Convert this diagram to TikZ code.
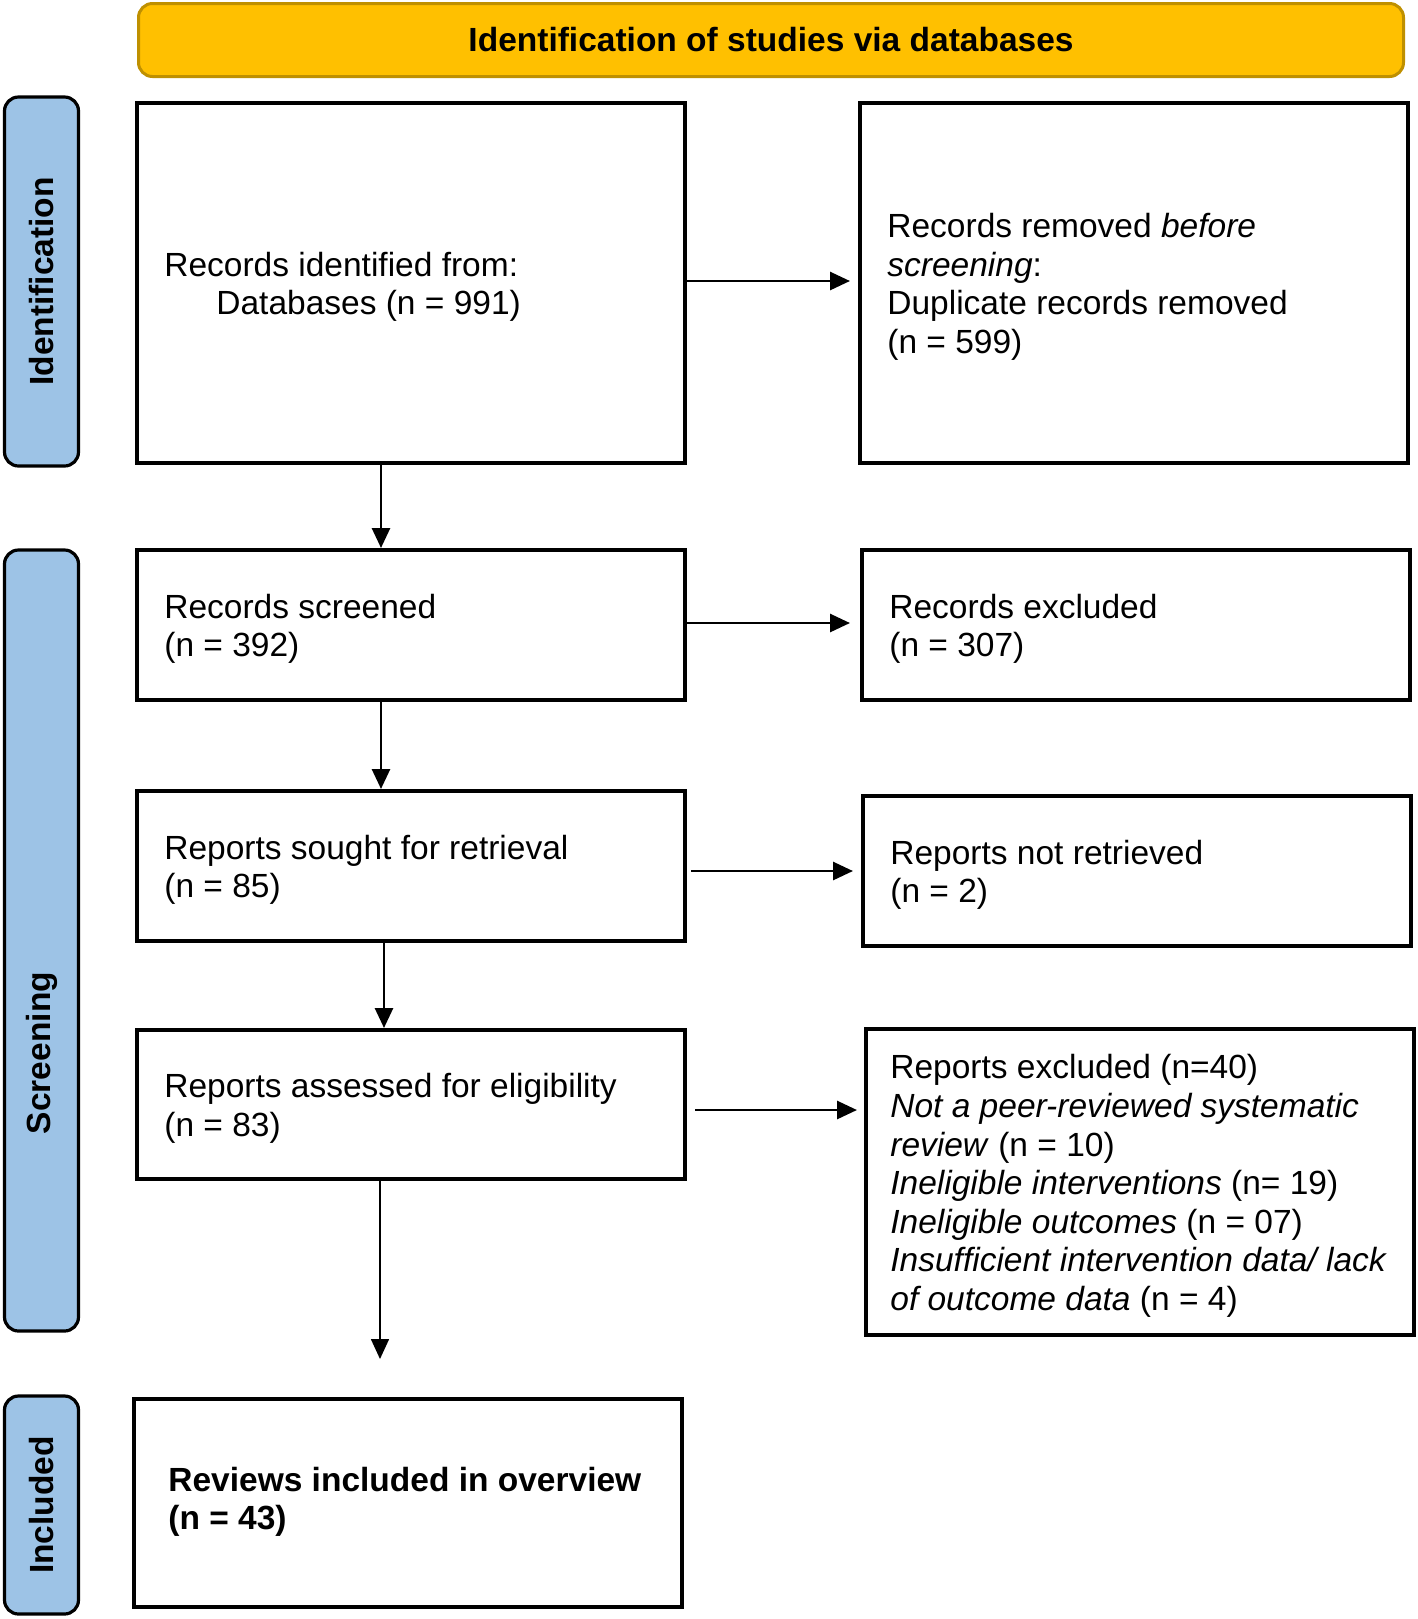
\documentclass[tikz,border=0pt]{standalone}
\usepackage{fontspec}
\setmainfont{Liberation Sans}
\usetikzlibrary{arrows.meta}
\definecolor{gold}{HTML}{FFC000}
\definecolor{golddark}{HTML}{BF9000}
\definecolor{phaseblue}{HTML}{9DC3E6}
\newcommand\diagfs{\fontsize{16.75pt}{19.3pt}\selectfont}
\begin{document}
\begin{tikzpicture}[x=0.5pt,y=-0.5pt,
  every node/.style={font=\diagfs},
  box/.style={draw=black, line width=2pt, minimum width=274pt, inner sep=0pt},
  txt/.style={anchor=west, align=left, inner sep=0pt},
  phase/.style={draw=black, line width=1.6pt, fill=phaseblue, rounded corners=7pt, minimum width=37pt, inner sep=0pt},
  phasetxt/.style={rotate=90, font=\diagfs\bfseries, inner sep=0pt},
  arr/.style={line width=1.4pt, -{Triangle[length=10pt,width=9pt]}},
]
\useasboundingbox (0,0) rectangle (1418,1619);

% title
\node[fill=gold, draw=golddark, line width=1.5pt, rounded corners=7pt,
      minimum width=632.5pt, minimum height=36.5pt, font=\diagfs\bfseries] (title) at (771,40) {Identification of studies via databases};

% phase labels
\node[phase, minimum height=184.5pt] (p1) at (41.5,281.5) {};
\node[phasetxt] (p1t) at (p1) {Identification};
\node[phase, minimum height=390.5pt] (p2) at (41.5,940.5) {};
\node[phasetxt] (p2t) at (41.5,1053) {Screening};
\node[phase, minimum height=109pt] (p3) at (41.5,1505) {};
\node[phasetxt] (p3t) at (p3) {Included};

% boxes
\node[box, minimum height=180pt] (b1) at (411,283) {};
\node[box, minimum height=180pt] (r1) at (1134,283) {};
\node[box, minimum height=75pt] (b2) at (411,625) {};
\node[box, minimum height=75pt] (r2) at (1136,625) {};
\node[box, minimum height=75pt] (b3) at (411,866) {};
\node[box, minimum height=75pt] (r3) at (1137,871) {};
\node[box, minimum height=74.5pt] (b4) at (411,1104.5) {};
\node[box, minimum height=153pt] (r4) at (1140,1182) {};
\node[box, minimum height=104pt] (b5) at (408,1503) {};

% texts
\node[txt] (b1t) at ([xshift=14.5pt,yshift=-2pt]b1.west) {Records identified from:\\\hspace*{26pt}Databases (n = 991)};
\node[txt] (r1t) at ([xshift=14.5pt,yshift=-2pt]r1.west) {Records removed \textit{before}\\\textit{screening}:\\Duplicate records removed\\(n = 599)};
\node[txt] (b2t) at ([xshift=14.5pt,yshift=-2pt]b2.west) {Records screened\\(n = 392)};
\node[txt] (r2t) at ([xshift=14.5pt,yshift=-2pt]r2.west) {Records excluded\\(n = 307)};
\node[txt] (b3t) at ([xshift=14.5pt,yshift=-2pt]b3.west) {Reports sought for retrieval\\(n = 85)};
\node[txt] (r3t) at ([xshift=14.5pt,yshift=-2pt]r3.west) {Reports not retrieved\\(n = 2)};
\node[txt] (b4t) at ([xshift=14.5pt,yshift=-2pt]b4.west) {Reports assessed for eligibility\\(n = 83)};
\node[txt] (r4t) at ([xshift=13pt,yshift=-2pt]r4.west) {Reports excluded (n=40)\\
\textit{Not a peer-reviewed systematic}\\
\textit{review} (n = 10)\\
\textit{Ineligible interventions} (n= 19)\\
\textit{Ineligible outcomes} (n = 07)\\
\textit{Insufficient intervention data/ lack}\\
\textit{of outcome data} (n = 4)};
\node[txt, font=\diagfs\bfseries] (b5t) at ([xshift=18pt,yshift=0.5pt]b5.west) {Reviews included in overview\\(n = 43)};

% vertical arrows
\draw[arr] ([xshift=-15pt]b1.south) -- ([xshift=-15pt]b2.north);
\draw[arr] ([xshift=-15pt]b2.south) -- ([xshift=-15pt]b3.north);
\draw[arr] ([xshift=-13.5pt]b3.south) -- ([xshift=-13.5pt]b4.north);
\coordinate (e5) at (380,1359);
\draw[arr, line width=0.8pt] (b4.south -| e5) -- (e5);

% horizontal arrows
\draw[arr, shorten >=4pt] ([yshift=1pt]b1.east) -- ([yshift=1pt]r1.west);
\draw[arr, shorten >=5pt] ([yshift=1pt]b2.east) -- ([yshift=1pt]r2.west);
\draw[arr, shorten <=2pt, shorten >=4pt] (b3.east |- r3.west) -- (r3.west);
\draw[arr, shorten <=4pt, shorten >=3.5pt] ([yshift=-2.75pt]b4.east) -- ([yshift=-2.75pt]b4.east -| r4.west);
\end{tikzpicture}
\end{document}
